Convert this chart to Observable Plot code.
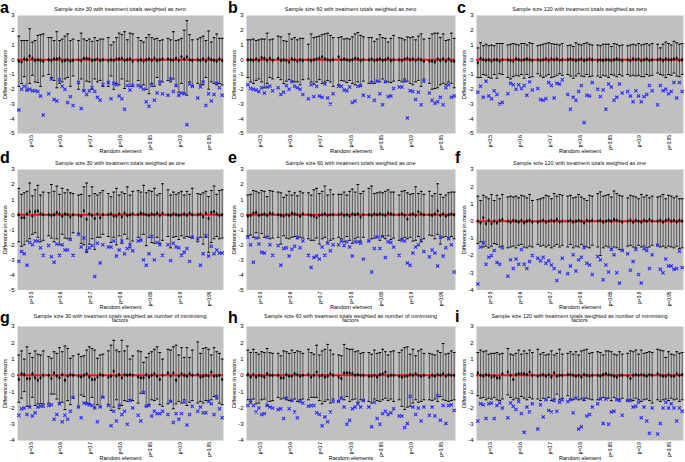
<!DOCTYPE html>
<html><head><meta charset="utf-8">
<script src="https://cdn.jsdelivr.net/npm/d3@7"></script>
<script src="https://cdn.jsdelivr.net/npm/@observablehq/plot@0.6"></script>
<style>
body{margin:0;background:#fff;font-family:"Liberation Sans",Arial,sans-serif;}
#root{position:relative;width:685px;height:462px;overflow:hidden;background:#fff;}
#root svg{position:absolute;overflow:visible;}
.letter{position:absolute;font-weight:bold;font-size:16px;line-height:16px;color:#000;}
.title{position:absolute;font-size:5.5px;line-height:4.6px;text-align:center;color:#111;white-space:nowrap;}
</style></head>
<body><div id="root"></div>
<script>
const groups = ["p=0.5","p=0.6","p=0.7","p=0.8","p=0.85","p=0.9","p=0.95"];

// Panel a
const hiA = [1.6,1.3,1.3,1.3,2.1,1.2,1.3,1.65,1.7,1.75, 1.5,1.5,1.3,1.9,1.3,1.4,1.6,1.75,1.3,1.4, 1.3,1.8,1.4,1.3,1.4,1.25,1.5,1.3,1.4,1.4, 1.5,1.0,1.2,1.5,1.8,1.7,1.9,1.35,1.8,1.75, 1.5,1.3,1.2,1.5,1.7,1.5,1.4,1.45,1.3,1.35, 1.45,1.35,1.9,1.3,1.35,1.45,2.0,2.65,1.7,1.35, 1.4,1.5,1.6,1.3,1.95,1.2,1.5,1.75,1.45,1.45];
const loA = [-1.8,-1.6,-1.15,-2.1,-1.6,-1.05,-1.5,-1.55,-1.8,-1.1, -1.0,-1.2,-1.4,-1.9,-1.6,-1.5,-1.3,-1.2,-1.8,-1.1, -2.0,-1.3,-2.1,-1.45,-1.5,-2.0,-1.3,-1.5,-1.4,-1.8, -1.8,-1.1,-2.0,-1.6,-1.7,-1.3,-1.95,-1.45,-1.8,-1.8, -1.4,-1.8,-1.7,-2.0,-2.3,-1.6,-1.8,-1.2,-1.7,-1.5, -1.4,-1.5,-1.3,-1.8,-2.2,-1.6,-2.3,-2.4,-1.5,-1.8, -1.6,-1.7,-1.7,-1.2,-2.0,-1.5,-1.6,-1.7,-1.6,-1.7];
const meanA = [-0.1,-0.15,0.05,0,0.25,0.1,-0.05,0,-0.05,-0.1, 0,-0.05,0.05,0.05,0.1,-0.1,-0.05,0,-0.1,-0.05, 0,-0.05,0.1,0.1,0.05,-0.05,0,0.05,-0.05,0, -0.05,0,-0.05,0.05,0.05,0.1,-0.05,0,0.05,-0.1, -0.05,0,-0.1,0,0.05,-0.05,0.1,-0.05,0,0.05, 0.05,0,-0.05,0.1,-0.05,0.2,0.05,0.2,0,-0.05, 0,-0.05,0.05,-0.1,0.1,0,-0.05,-0.1,0.05,-0.05];
const outA = [-3.4,-2.0,-1.8,-2.05,-2.0,-2.1,-2.1,-2.15,-2.45,-3.75, -2.3,-1.3,-2.7,-2.8,-1.35,-1.8,-2.0,-2.9,-2.5,-3.1, -1.55,-3.3,-2.1,-2.35,-2.1,-1.9,-2.15,-2.55,-2.75,-1.7, -1.55,-2.65,-1.6,-1.7,-2.45,-2.65,-3.35,-1.75,-2.05,-1.75, -1.75,-1.85,-2.0,-2.85,-3.15,-1.75,-2.75,-2.25,-1.5,-2.3, -2.4,-1.3,-2.15,-1.75,-2.4,-2.25,-2.3,-4.4,-1.65,-1.8, -2.6,-1.85,-1.5,-3.1,-2.3,-2.8,-2.35,-1.6,-1.9,-2.4];

// Panel b
const hiB = [1.35,1.35,1.4,1.3,1.35,1.4,1.4,1.8,1.35,1.4, 1.6,1.55,1.3,1.25,1.75,1.4,1.5,1.35,1.45,1.45, 1.05,1.75,1.5,1.55,1.6,1.7,1.75,1.8,1.65,1.5, 1.5,1.55,1.4,1.45,1.4,1.55,1.75,1.85,1.65,1.55, 1.5,1.5,1.25,1.4,1.7,1.5,1.45,1.2,1.45,1.65, 1.5,1.45,1.35,1.55,1.5,1.55,1.35,1.6,1.75,1.4, 1.45,1.75,1.8,1.8,1.5,1.75,1.3,1.35,1.8,1.45];
const loB = [-1.2,-1.5,-1.6,-1.4,-1.3,-1.5,-1.9,-1.6,-1.2,-1.3, -1.2,-1.35,-1.6,-1.45,-1.35,-1.45,-1.5,-1.5,-1.7,-1.35, -1.3,-1.5,-1.65,-1.5,-1.35,-1.6,-1.5,-1.4,-1.5,-1.8, -1.7,-1.4,-1.45,-1.55,-1.4,-1.6,-1.7,-1.5,-1.8,-1.45, -1.6,-1.5,-1.6,-1.45,-1.5,-1.3,-1.5,-1.5,-1.55,-1.45, -1.4,-1.5,-1.3,-1.45,-1.6,-1.7,-1.5,-1.4,-1.8,-1.3, -1.6,-2.0,-1.95,-1.9,-1.7,-1.6,-1.7,-1.5,-1.6,-1.9];
const meanB = [0,0,-0.05,0.05,-0.05,0.15,0.1,-0.05,0.1,-0.05, 0.1,-0.05,0,-0.05,-0.15,0.05,0,-0.1,0,-0.05, 0,-0.05,0,0.05,0.1,0.2,0.05,0,-0.05,0, 0.2,0,0.05,0,-0.05,0,0.1,0.05,-0.05,0, 0,0.05,-0.05,0,0.05,-0.05,0,0.1,-0.05,0, 0,-0.05,0.05,0.1,0,0.05,-0.05,0.05,0,-0.1, -0.1,-0.1,-0.15,0.05,-0.05,0.05,-0.1,0.05,-0.1,-0.1];
const outB = [-1.7,-1.95,-2.0,-2.05,-2.15,-1.9,-2.25,-1.85,-1.8,-2.1, -1.9,-2.35,-2.2,-1.75,-2.0,-1.5,-1.8,-1.9,-2.0,-2.35, -2.65,-1.7,-2.5,-1.8,-2.45,-2.55,-1.65,-2.6,-3.0,-2.3, -1.8,-1.8,-2.05,-2.1,-1.85,-2.9,-2.8,-1.8,-1.75,-2.4, -2.5,-1.55,-2.75,-1.45,-2.3,-3.05,-1.5,-2.5,-2.45,-1.95, -1.85,-1.85,-1.45,-3.95,-2.1,-2.15,-2.7,-2.2,-3.05,-1.45, -2.25,-2.75,-2.95,-2.85,-2.55,-3.05,-1.9,-1.7,-2.55,-2.45];

// Panel c
const hiC = [0.8,1.15,0.95,1.05,0.95,1.0,0.95,1.1,1.1,1.1, 1.0,1.05,1.1,1.05,1.0,1.1,1.1,1.0,1.15,1.1, 0.95,1.0,1.05,1.1,1.15,1.1,1.05,1.05,1.0,1.1, 0.95,1.0,0.9,1.15,1.05,1.0,1.1,1.15,1.05,1.0, 1.0,0.95,1.05,1.05,1.05,0.9,1.1,1.05,0.95,1.0, 0.95,1.0,1.05,1.0,1.1,1.0,1.05,1.1,1.0,1.1, 1.05,0.8,1.05,1.2,1.1,1.0,1.25,1.15,1.05,1.1];
const loC = [-1.2,-1.2,-1.0,-1.05,-1.2,-1.25,-1.0,-1.25,-0.95,-1.0, -1.2,-1.3,-1.15,-1.05,-1.1,-1.0,-1.25,-1.0,-1.2,-1.15, -0.95,-1.1,-1.2,-1.1,-1.0,-1.2,-1.15,-1.05,-0.95,-1.05, -1.0,-1.1,-1.25,-1.1,-0.95,-1.1,-1.15,-1.0,-1.15,-1.1, -1.1,-1.2,-1.05,-1.1,-1.2,-1.0,-1.05,-1.15,-1.0,-1.1, -1.0,-1.1,-1.05,-1.1,-1.05,-1.15,-1.15,-1.0,-1.1,-1.05, -0.9,-1.0,-1.05,-1.2,-1.0,-1.05,-0.9,-1.1,-1.15,-1.0];
const meanC = [-0.2,0.1,0,-0.05,0,-0.1,0,0,-0.1,0, 0,-0.05,-0.1,0.05,0,-0.05,0,0.05,0,-0.05, 0,-0.05,0,0.05,-0.05,0.05,0,0.05,-0.05,0, 0,0.05,0,-0.05,0,0.05,-0.05,0,0.05,0, -0.05,0,-0.05,0,0,-0.05,0,0.05,0,-0.05, 0,-0.05,0.05,0,0.05,-0.05,0,0.05,-0.05,0, 0,0.05,-0.05,0.05,0,0,0.05,0.1,-0.05,0];
const outC = [-2.2,-1.8,-2.55,-1.45,-2.45,-2.65,-2.1,-2.35,-3.0,-2.9, -2.3,-1.6,-1.7,-2.0,-1.7,-1.95,-1.75,-2.4,-1.5,-2.05, -1.95,-2.7,-2.75,-2.65,-1.55,-1.75,-2.6,-1.6,-1.65,-1.35, -2.35,-3.35,-2.55,-2.75,-2.15,-1.75,-4.25,-2.4,-2.45,-1.55, -2.0,-2.5,-2.05,-3.35,-1.65,-1.85,-2.75,-2.55,-1.65,-2.25, -2.15,-2.45,-2.85,-2.1,-2.45,-2.85,-2.5,-2.35,-1.75,-2.1, -3.05,-1.75,-2.1,-2.0,-2.3,-2.15,-1.55,-2.6,-1.55,-2.15];

// Panel d
const hiD = [1.75,1.35,1.45,1.55,2.1,1.25,1.65,1.95,1.3,1.5, 1.45,2.0,1.55,1.9,1.35,1.75,1.45,1.65,1.45,1.4, 1.3,1.35,1.85,2.1,1.25,1.85,1.4,1.3,1.45,1.6, 1.4,1.2,1.5,1.75,1.3,1.5,1.4,1.85,1.3,1.55, 1.6,1.5,1.95,1.45,1.6,1.55,1.75,1.3,1.4,2.05, 1.65,1.3,1.5,1.35,1.45,1.55,1.3,1.55,1.35,1.75, 1.4,1.35,1.45,1.55,1.2,1.6,1.9,1.35,1.6,1.65];
const loD = [-1.8,-2.1,-2.0,-1.75,-1.6,-1.3,-1.2,-1.5,-1.8,-1.7, -1.4,-1.55,-1.8,-1.6,-2.0,-1.3,-1.55,-1.6,-1.6,-1.2, -1.25,-1.9,-2.0,-2.5,-1.95,-1.6,-2.3,-1.5,-1.5,-1.3, -1.45,-1.85,-1.5,-2.0,-1.4,-1.9,-1.3,-1.6,-2.2,-1.75, -1.5,-1.7,-1.3,-2.05,-1.5,-1.85,-1.9,-1.5,-1.9,-1.7, -1.45,-2.2,-1.5,-1.45,-1.65,-1.4,-1.55,-1.45,-1.5,-1.55, -1.8,-1.5,-1.95,-1.5,-2.5,-1.85,-1.6,-1.45,-1.6,-1.55];
const meanD = [0,-0.2,-0.2,0.05,0.2,-0.1,0.2,0.25,0.05,0, 0,-0.05,0,0.15,0.05,-0.1,0.05,0,-0.15,0, -0.05,-0.1,0.25,-0.3,0.05,-0.05,-0.25,0.05,-0.2,0, 0,0.05,-0.1,-0.1,0.05,-0.15,0.1,-0.05,0,0.05, 0,0.1,0.05,0,-0.05,0.05,0,0.1,-0.05,0.1, 0,-0.05,0.05,0,-0.05,0,0.05,-0.05,0.1,0, 0,0.05,-0.15,0.1,-0.25,0.15,0.2,0.05,-0.05,0];
const outD = [-3.1,-2.45,-2.6,-3.35,-1.85,-2.0,-1.75,-1.75,-2.2,-2.7, -2.05,-2.8,-3.15,-1.95,-2.7,-2.0,-2.35,-2.35,-1.65,-2.7, -1.3,-2.15,-1.55,-2.4,-2.2,-2.05,-4.1,-1.9,-3.2,-2.0, -2.15,-2.15,-1.75,-2.75,-2.35,-1.75,-2.6,-2.25,-2.0,-2.4, -1.75,-1.7,-3.0,-3.35,-2.6,-1.45,-3.0,-1.85,-2.0,-2.7, -2.0,-3.05,-1.9,-2.15,-2.2,-2.7,-2.5,-2.25,-3.1,-1.5, -1.6,-3.35,-2.6,-1.4,-2.75,-2.1,-2.6,-2.35,-2.55,-2.55];

// Panel e
const hiE = [1.3,1.35,1.6,1.55,1.45,1.6,1.55,1.2,1.6,1.55, 1.5,1.45,1.15,1.3,1.55,1.3,1.45,1.25,1.55,1.45, 1.45,1.3,1.65,1.75,1.4,1.55,1.9,1.3,1.65,1.35, 1.35,1.35,1.5,1.3,1.55,1.7,1.5,2.0,1.4,1.55, 1.75,1.9,1.4,1.45,1.5,1.45,1.55,1.65,1.5,1.5, 1.3,1.55,1.6,1.45,1.35,1.4,1.85,1.4,1.55,1.35, 1.55,1.25,1.4,2.05,1.35,1.15,1.3,1.45,1.5,1.5];
const loE = [-1.4,-1.35,-1.5,-1.2,-1.55,-1.25,-1.5,-1.45,-1.6,-1.55, -1.5,-1.95,-1.4,-1.55,-1.6,-1.5,-1.45,-1.6,-1.5,-1.55, -1.6,-1.7,-1.7,-1.55,-1.95,-1.6,-1.5,-1.85,-1.7,-1.6, -1.5,-1.6,-1.8,-1.45,-1.7,-1.9,-1.6,-1.5,-1.75,-1.5, -1.75,-1.6,-1.55,-1.45,-1.7,-1.45,-1.6,-1.4,-1.65,-1.55, -1.7,-1.6,-1.5,-1.6,-1.5,-1.75,-1.7,-1.45,-1.8,-1.6, -1.35,-1.4,-1.6,-1.3,-1.95,-1.5,-1.45,-1.55,-1.45,-1.6];
const meanE = [-0.1,-0.05,0.1,0.15,-0.05,0,0.05,-0.05,0.1,0.05, 0,-0.05,-0.1,0,-0.05,0.1,0.05,0,-0.1,0.05, 0,-0.05,-0.1,-0.2,-0.05,0,0.05,-0.05,0,0, 0,0.05,-0.05,0,-0.1,0.05,0,0.05,-0.15,0, 0,-0.05,0.05,0,0.05,0,-0.05,0.1,0.05,0, 0,0.05,-0.05,-0.3,0,0.05,-0.05,0.2,0.05,0, 0,-0.05,0.05,0.25,-0.05,0.05,-0.1,0,0.05,0];
const outE = [-1.5,-2.0,-3.15,-1.55,-1.95,-2.5,-2.55,-1.5,-2.0,-2.7, -2.05,-3.35,-2.25,-2.2,-2.75,-2.3,-2.1,-1.5,-2.2,-1.75, -2.7,-3.5,-2.85,-2.75,-2.95,-2.15,-2.7,-1.9,-2.4,-2.0, -2.0,-1.75,-2.05,-1.8,-2.15,-2.75,-1.8,-1.8,-1.9,-2.95, -1.75,-3.8,-2.25,-1.5,-2.25,-1.45,-2.85,-1.8,-1.85,-2.15, -2.7,-1.7,-1.75,-3.2,-3.35,-2.55,-2.15,-2.0,-1.7,-2.45, -2.8,-2.35,-2.55,-3.4,-1.5,-2.75,-2.2,-1.6,-2.0,-3.8];

// Panel f
const hiF = [1.45,1.2,1.5,1.4,1.3,1.55,1.2,1.5,1.3,1.55, 1.4,1.45,1.4,1.45,1.35,1.5,1.45,1.35,1.55,1.2, 1.25,1.3,1.35,1.5,1.45,1.3,1.6,1.45,1.55,1.5, 1.45,1.5,1.35,1.4,1.55,1.4,1.3,1.2,1.5,1.45, 1.6,1.7,1.45,1.5,1.55,1.4,1.75,1.6,1.5,1.45, 1.35,1.5,1.45,1.4,1.3,1.55,1.4,1.5,1.35,1.45, 1.4,1.45,1.55,1.3,1.5,1.45,1.35,1.45,1.3,1.3];
const loF = [-1.3,-1.2,-1.5,-1.45,-1.55,-1.45,-1.3,-1.35,-1.5,-1.45, -1.55,-1.5,-1.45,-1.55,-1.4,-1.35,-1.5,-1.55,-1.45,-1.5, -1.35,-1.45,-1.4,-1.5,-1.4,-1.55,-1.45,-1.35,-1.5,-1.4, -1.5,-1.35,-1.55,-1.45,-1.5,-1.35,-1.45,-1.5,-1.55,-1.4, -1.5,-2.0,-1.55,-1.45,-1.5,-1.6,-1.5,-1.55,-1.65,-1.7, -1.45,-1.4,-1.5,-1.55,-1.4,-1.5,-1.45,-1.55,-1.5,-1.4, -1.4,-1.5,-1.45,-1.55,-1.45,-1.5,-1.55,-1.45,-1.6,-1.55];
const meanF = [0,-0.1,0.2,-0.15,0.05,-0.15,0,-0.1,0.05,0.1, 0,-0.05,0.05,0,-0.05,0.05,-0.1,0,0.05,-0.05, -0.05,0,0.05,-0.05,0,0.05,0,0.1,-0.05,0, 0,0.05,-0.05,0,0.05,0,-0.1,0.05,0,0.05, 0,0.05,-0.05,0,0.05,0,0.1,0.05,0,-0.05, 0,0.05,-0.05,0.05,0,-0.05,0.05,0,0.1,0, 0,0.05,-0.05,0.05,0.1,0,0.05,-0.05,0.05,0];
const outF = [-3.65,-1.5,-1.25,-2.5,-2.1,-2.0,-1.7,-2.4,-2.5,-1.55, -3.2,-2.25,-2.75,-2.2,-2.5,-1.65,-2.5,-2.75,-2.35,-2.0, -2.15,-2.3,-2.1,-2.45,-2.3,-2.55,-2.75,-3.45,-2.95,-2.15, -3.05,-2.6,-1.95,-2.9,-2.25,-2.1,-1.55,-2.45,-2.55,-3.1, -2.05,-2.25,-3.4,-2.55,-2.95,-1.65,-1.95,-3.0,-3.6,-1.7, -1.9,-2.85,-2.35,-1.65,-3.1,-3.6,-1.6,-1.7,-2.75,-1.95, -1.4,-2.8,-3.0,-2.2,-2.6,-2.6,-2.8,-2.75,-1.75,-2.7];

// Panel g
const hiG = [1.25,1.5,1.0,1.75,1.35,1.1,1.5,1.3,1.25,1.5, 1.15,1.05,1.45,1.35,1.7,1.45,1.8,1.65,1.05,1.2, 1.3,1.15,1.2,1.55,1.75,1.65,1.55,1.05,1.25,1.3, 1.5,1.85,2.15,1.55,1.45,2.15,1.5,1.8,1.0,1.2, 1.5,1.45,0.8,1.1,1.35,1.45,1.6,1.75,1.4,1.0, 1.6,1.55,1.75,1.85,1.25,1.7,1.1,1.7,1.1,1.55, 2.05,1.35,1.65,1.7,1.6,1.25,1.7,1.45,1.35,1.0];
const loG = [-1.65,-1.4,-1.0,-1.9,-1.9,-1.35,-1.85,-1.75,-1.75,-1.75, -1.7,-1.15,-1.15,-1.45,-1.7,-1.65,-2.1,-1.55,-1.8,-1.4, -1.95,-1.2,-1.3,-1.7,-1.75,-1.35,-2.0,-1.8,-1.95,-1.35, -1.8,-2.15,-1.95,-1.5,-2.05,-1.85,-1.55,-1.6,-1.5,-1.55, -1.7,-1.1,-1.1,-1.9,-1.8,-1.5,-1.55,-1.45,-1.8,-1.9, -1.75,-1.6,-2.05,-1.75,-1.6,-1.7,-1.5,-1.85,-1.65,-1.55, -1.7,-1.6,-1.7,-1.55,-1.55,-1.5,-1.3,-1.45,-1.7,-1.8];
const meanG = [-0.25,0.1,0.05,-0.2,-0.2,0.1,-0.15,-0.3,-0.15,0, 0,-0.2,0.15,-0.05,-0.15,0.05,-0.3,-0.05,0.05,0, -0.05,-0.1,0,0.1,-0.1,-0.25,-0.25,-0.1,0.05,0, -0.1,-0.05,0.25,-0.05,0.05,-0.15,0.05,0,0.05,0, -0.1,-0.15,-0.15,0.05,-0.1,0,0.1,-0.05,-0.25,0, 0.15,-0.05,0.15,-0.3,-0.05,0.1,0,-0.05,0.1,0, 0.05,-0.1,-0.05,0,-0.05,0.2,-0.05,-0.05,0,-0.25];
const outG = [-2.45,-2.05,-2.0,-2.4,-1.95,-2.5,-2.3,-1.95,-1.9,-1.9, -1.85,-1.8,-2.7,-2.4,-1.75,-2.85,-2.45,-2.7,-2.2,-1.35, -1.95,-2.6,-1.7,-1.75,-1.8,-1.85,-2.0,-2.85,-1.95,-1.35, -1.85,-3.1,-2.2,-2.8,-1.85,-2.4,-2.2,-3.0,-1.55,-2.0, -2.45,-2.8,-1.05,-1.9,-1.85,-2.5,-2.2,-2.35,-2.35,-2.2, -2.4,-1.6,-2.9,-2.35,-2.7,-2.35,-1.65,-3.05,-2.4,-1.9, -2.2,-1.95,-2.3,-2.3,-1.6,-1.75,-2.4,-1.3,-2.05,-2.6];

// Panel h
const hiH = [1.55,1.4,1.6,1.4,1.3,1.45,1.4,1.65,1.4,1.35, 1.35,1.2,1.5,1.45,1.35,1.55,1.4,1.5,1.45,1.35, 1.6,1.4,1.3,1.85,1.25,1.5,1.6,1.9,1.55,1.3, 1.25,1.2,1.9,1.65,1.6,1.6,1.45,1.5,1.35,1.4, 1.4,1.3,1.55,1.35,1.4,1.6,1.45,1.25,1.45,1.5, 1.4,1.55,1.7,1.75,1.3,1.6,1.2,1.5,1.6,1.35, 1.35,1.3,1.25,1.5,1.4,1.95,1.3,1.35,1.5,1.4];
const loH = [-1.5,-1.7,-1.45,-1.75,-1.7,-1.5,-1.45,-1.85,-1.6,-1.55, -1.35,-1.45,-1.4,-1.5,-1.55,-1.55,-1.45,-1.6,-1.5,-1.45, -1.5,-1.35,-1.35,-1.35,-1.55,-1.75,-1.6,-1.5,-1.7,-1.45, -1.6,-1.4,-1.5,-1.3,-1.6,-1.5,-1.45,-1.65,-1.5,-1.55, -1.6,-1.7,-1.45,-1.55,-1.6,-1.5,-1.4,-1.55,-1.45,-1.6, -1.5,-1.9,-2.1,-1.95,-1.9,-1.7,-1.5,-1.65,-1.6,-1.5, -1.5,-1.55,-1.45,-1.6,-1.3,-1.5,-1.55,-1.6,-1.55,-1.5];
const meanH = [0.05,-0.1,0.05,-0.1,0,-0.05,-0.1,0.1,0,0, 0,-0.15,-0.15,0.05,-0.05,-0.05,0.1,0.05,-0.05,0, 0.05,-0.1,0,0.2,-0.05,0,-0.1,-0.05,0.1,0, -0.1,-0.2,0.15,0.15,0.15,0.1,0,0.05,0,0, -0.05,-0.05,0,-0.1,0.05,0.1,0.2,-0.05,0,0, -0.05,-0.1,-0.05,-0.05,0.05,0,0.1,0,-0.05,0, -0.1,0,-0.05,0.05,0,0.1,-0.05,0.05,0,0];
const outH = [-1.85,-1.55,-1.85,-2.25,-2.0,-2.4,-2.35,-1.85,-1.95,-2.0, -2.1,-2.05,-2.65,-1.4,-2.05,-1.55,-2.25,-2.6,-1.6,-1.7, -1.9,-1.85,-1.85,-2.3,-2.4,-3.1,-2.55,-2.85,-2.25,-1.6, -1.6,-1.4,-1.95,-3.0,-2.75,-2.05,-1.95,-1.75,-1.95,-1.55, -1.95,-3.15,-1.65,-2.65,-3.0,-2.35,-2.2,-2.4,-2.3,-2.05, -2.5,-2.5,-3.2,-2.95,-1.3,-1.95,-2.4,-2.0,-2.8,-1.95, -2.45,-1.95,-2.5,-1.25,-2.75,-1.85,-2.95,-1.85,-1.8,-2.15];

// Panel i
const hiI = [1.4,1.55,1.45,1.5,1.3,1.35,1.35,1.4,1.3,1.35, 1.65,1.3,1.25,1.35,1.55,1.3,1.5,1.35,1.55,1.4, 1.6,1.3,1.4,1.25,1.3,1.5,1.25,1.35,1.6,1.3, 1.35,1.45,1.3,1.45,1.25,1.5,1.55,1.6,1.35,1.4, 1.45,1.4,1.25,1.5,1.5,1.45,1.3,1.25,1.45,1.3, 1.35,1.5,1.45,1.55,1.3,1.55,1.35,1.4,1.45,1.4, 1.6,1.55,1.5,1.1,1.45,1.3,1.25,1.45,1.35,1.4];
const loI = [-1.25,-1.4,-1.35,-1.5,-1.4,-1.45,-1.35,-1.5,-1.55,-1.45, -1.2,-1.35,-1.5,-1.4,-1.45,-1.3,-1.4,-1.5,-1.35,-1.45, -1.45,-1.55,-1.4,-1.5,-1.35,-1.55,-1.45,-1.15,-1.5,-1.4, -1.25,-1.5,-1.5,-1.4,-1.5,-1.45,-1.55,-1.4,-1.45,-1.5, -1.5,-1.45,-1.35,-1.4,-1.4,-1.55,-1.35,-1.45,-1.5,-1.4, -1.55,-1.5,-1.55,-1.4,-1.5,-1.6,-1.5,-1.45,-1.55,-1.7, -1.5,-1.6,-1.5,-1.45,-1.55,-1.4,-1.5,-1.45,-1.6,-1.5];
const meanI = [0.15,0,-0.05,0.05,0,-0.1,-0.05,-0.15,-0.15,0.1, 0.2,0,-0.25,0.05,0.1,0.1,0.1,0.05,0.2,0, -0.05,0,0.05,-0.05,0.05,-0.1,0.15,-0.05,0,0, 0.05,0.05,0,-0.05,0,-0.1,0.05,0,-0.05,0, 0,-0.05,0.05,0.1,0.05,0,-0.05,-0.1,0,0, -0.05,-0.2,0,0.05,0,0.05,0,-0.05,0.05,0, 0.1,0,-0.05,-0.05,0.05,-0.05,-0.05,0.1,0,0.05];
const outI = [-2.8,-1.75,-1.8,-2.65,-1.75,-1.7,-2.65,-1.85,-1.7,-2.0, -2.6,-1.7,-1.9,-2.1,-1.6,-2.35,-3.5,-1.95,-2.25,-1.75, -3.3,-1.8,-2.55,-1.5,-2.15,-2.25,-1.55,-2.2,-1.65,-1.5, -1.6,-1.5,-2.3,-1.4,-3.3,-3.15,-1.45,-2.5,-2.4,-1.95, -1.75,-1.45,-2.95,-1.45,-3.0,-2.25,-2.2,-1.5,-1.55,-2.45, -1.55,-1.55,-1.95,-1.9,-1.65,-2.6,-1.95,-2.8,-3.55,-2.0, -3.6,-2.95,-2.0,-1.65,-2.0,-1.75,-2.0,-2.8,-2.0,-2.2];

const titleBase = "Sample size ";
const panels = [
  {id:"a", n:30,  w:"zero", yMin:-5, xLab:"Random element", hi:hiA, lo:loA, mean:meanA, out:outA},
  {id:"b", n:60,  w:"zero", yMin:-5, xLab:"Random element", hi:hiB, lo:loB, mean:meanB, out:outB},
  {id:"c", n:120, w:"zero", yMin:-5, xLab:"Random element", hi:hiC, lo:loC, mean:meanC, out:outC},
  {id:"d", n:30,  w:"one",  yMin:-5, xLab:"Random element", hi:hiD, lo:loD, mean:meanD, out:outD},
  {id:"e", n:60,  w:"one",  yMin:-5, xLab:"Random element", hi:hiE, lo:loE, mean:meanE, out:outE},
  {id:"f", n:120, w:"one",  yMin:-4, xLab:"Random element", hi:hiF, lo:loF, mean:meanF, out:outF},
  {id:"g", n:30,  w:"number of minimising<br>factors", yMin:-4, xLab:"Random element", hi:hiG, lo:loG, mean:meanG, out:outG},
  {id:"h", n:60,  w:"number of minimising<br>factors", yMin:-4, xLab:"Random elements", hi:hiH, lo:loH, mean:meanH, out:outH},
  {id:"i", n:120, w:"number of minimising<br>factors", yMin:-4, xLab:"Random element", hi:hiI, lo:loI, mean:meanI, out:outI}
];

// layout (pixels)
const colFrame = [[17,223],[246,455],[476,683]];
const rowFrame = [[15,133],[168.5,289],[326,440]];
const letterPos = [[0,13.5],[228,13.5],[457,13.5],[0,163],[228,163],[455,163],[0,323],[228,323],[455,322]];
const titleY = [6.8, 161.2, 313.6];

const cap = {draw(ctx, size){ const r = Math.sqrt(size/Math.PI); ctx.moveTo(-r,0); ctx.lineTo(r,0); }};
const root = document.getElementById("root");
const perGroup = 10, slot = 11;

panels.forEach((p, k) => {
  const c = k % 3, r = Math.floor(k / 3);
  const [fl, fr] = colFrame[c], [ft, fb] = rowFrame[r];
  const mL = 17, mT = 6, mR = 2, mB = 24;
  const rows = p.hi.map((h, i) => ({
    x: Math.floor(i / perGroup) * slot + (i % perGroup) + 0.5,
    hi: h, lo: p.lo[i], mean: p.mean[i], out: p.out[i]
  }));
  const chart = Plot.plot({
    width: fr - fl + mL + mR, height: fb - ft + mT + mB,
    marginLeft: mL, marginRight: mR, marginTop: mT, marginBottom: mB,
    x: {domain: [0, groups.length * slot - 1], axis: null},
    y: {domain: [p.yMin, 3], axis: null},
    style: {fontFamily: "'Liberation Sans', Arial, sans-serif", background: "transparent", color: "#000", overflow: "visible"},
    marks: [
      Plot.frame({fill: "#c0c0c0", stroke: "none"}),
      Plot.axisY({ticks: d3.range(p.yMin, 4), tickSize: 0, tickPadding: 3, tickFormat: d => String(d), fontSize: 6, label: null}),
      Plot.axisX({ticks: groups.map((g, i) => i * slot + 5), tickFormat: d => groups[(d - 5) / slot], tickRotate: -90, tickSize: 0, tickPadding: 1.5, fontSize: 4.8, label: null}),
      Plot.ruleX(rows, {x: "x", y1: "lo", y2: "hi", stroke: "#2a2a2a", strokeWidth: 0.7}),
      Plot.ruleY([0], {stroke: "#ff1010", strokeWidth: 2}),
      Plot.dot(rows, {x: "x", y: "hi", symbol: cap, r: 1.4, stroke: "#000", strokeWidth: 1}),
      Plot.dot(rows, {x: "x", y: "lo", symbol: cap, r: 1.4, stroke: "#000", strokeWidth: 1}),
      Plot.dot(rows, {x: "x", y: "mean", symbol: "diamond", r: 1.3, fill: "#000", stroke: "none"}),
      Plot.dot(rows, {x: "x", y: "out", symbol: "times", r: 1.6, stroke: "#2b2bff", strokeWidth: 1.1}),
      Plot.text(["Difference in means"], {frameAnchor: "left", dx: -12, rotate: -90, textAnchor: "middle", lineAnchor: "middle", fontSize: 5.5}),
      Plot.text([p.xLab], {frameAnchor: "bottom", dy: 17.5, textAnchor: "middle", lineAnchor: "middle", fontSize: 5.5})
    ]
  });
  chart.style.left = (fl - mL) + "px";
  chart.style.top = (ft - mT) + "px";
  root.appendChild(chart);

  const t = document.createElement("div");
  t.className = "title";
  t.innerHTML = titleBase + p.n + " with treatment totals weighted as " + p.w;
  t.style.left = ((fl + fr) / 2) + "px";
  t.style.top = titleY[r] + "px";
  t.style.transform = "translateX(-50%)";
  root.appendChild(t);

  const L = document.createElement("div");
  L.className = "letter";
  L.textContent = p.id;
  L.style.left = letterPos[k][0] + "px";
  L.style.top = (letterPos[k][1] - 13.5) + "px";
  root.appendChild(L);
});
</script>
</body></html>
